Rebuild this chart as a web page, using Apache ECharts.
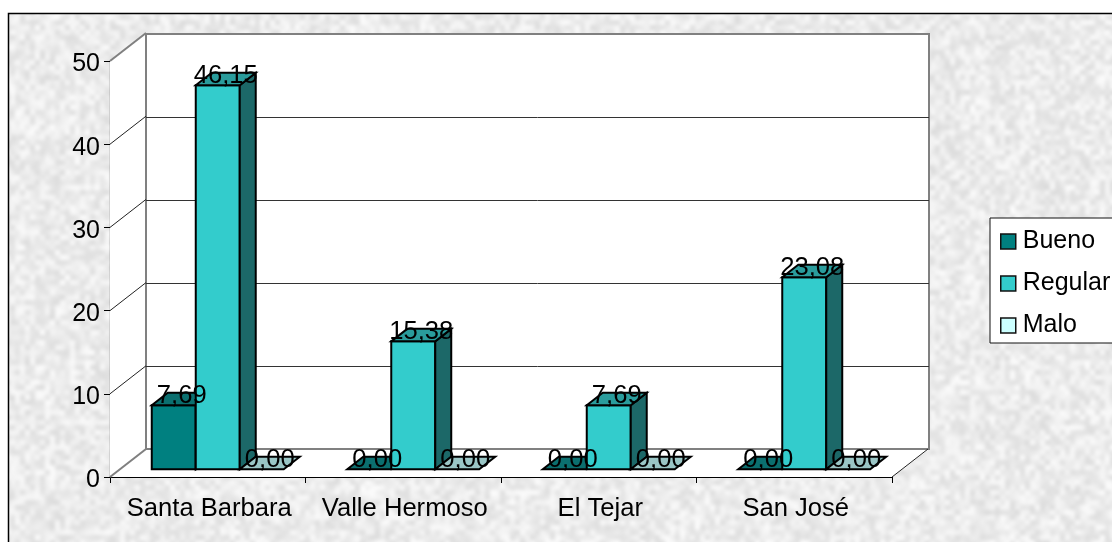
<!DOCTYPE html>
<html>
<head>
<meta charset="utf-8">
<style>html,body{margin:0;padding:0;background:#fff;overflow:hidden}#chart{width:1112px;height:542px}</style>
<script src="https://cdn.jsdelivr.net/npm/echarts@6/dist/echarts.min.js"></script>
</head>
<body>
<div id="chart"></div>
<script>
// Survey results per site
const categories = ['Santa Barbara', 'Valle Hermoso', 'El Tejar', 'San José'];
const bueno = [7.69, 0, 0, 0];
const regular = [46.15, 15.38, 7.69, 23.08];
const malo = [0, 0, 0, 0];
const yTicks = [0, 10, 20, 30, 40, 50];

// Face colours: front, top, side
const palette = {
  Bueno: ['#008080', '#0b6f6f', '#0a5a5a'],
  Regular: ['#33cccc', '#2a9c9c', '#1c6868'],
  Malo: ['#ccffff', '#9ac6c6', '#7fa8a8']
};

const FONT = '"Liberation Sans", Arial, sans-serif';
const WALL_DX = 36, WALL_DY = -28;     // offset of the back wall from the front plane
const BAR_INSET_X = 10, BAR_INSET_Y = -7.7; // bars stand a little behind the front edge
const BAR_DX = 16, BAR_DY = -12.5;     // bar depth
const BAR_SHARE = 0.225;               // bar width as a share of a category band

// Mottled stone background, drawn with a small seeded generator
function stoneTexture(w, h) {
  let seed = 20417;
  const rnd = () => (seed = (seed * 1664525 + 1013904223) >>> 0) / 4294967296;
  const out = document.createElement('canvas');
  out.width = w; out.height = h;
  const ctx = out.getContext('2d');
  ctx.fillStyle = '#f1f1f1';
  ctx.fillRect(0, 0, w, h);
  const layer = (cell, lo, hi, alpha) => {
    const cw = Math.ceil(w / cell), ch = Math.ceil(h / cell);
    const c = document.createElement('canvas');
    c.width = cw; c.height = ch;
    const cx = c.getContext('2d');
    const img = cx.createImageData(cw, ch);
    for (let i = 0; i < img.data.length; i += 4) {
      const v = lo + (hi - lo) * rnd();
      img.data[i] = img.data[i + 1] = img.data[i + 2] = v;
      img.data[i + 3] = 255;
    }
    cx.putImageData(img, 0, 0);
    ctx.globalAlpha = alpha;
    ctx.imageSmoothingEnabled = true;
    ctx.imageSmoothingQuality = 'high';
    ctx.drawImage(c, 0, 0, w, h);
  };
  layer(30, 232, 250, 0.4);
  layer(12, 225, 255, 0.45);
  layer(5, 208, 255, 0.55);
  ctx.globalAlpha = 1;
  return out;
}

function fmt(v) { return v.toFixed(2).replace('.', ','); }

function poly(points, fill, stroke, lineWidth) {
  return {
    type: 'polygon',
    shape: { points },
    style: { fill, stroke: stroke || null, lineWidth: lineWidth || 0, lineJoin: 'miter' }
  };
}

// Screen box of a column's front face, taken from the axis scales
function columnBox(api, slot) {
  const c = api.value(0), v = api.value(1);
  const base = api.coord([c, 0]);
  const head = api.coord([c, v]);
  const w = api.size([1, 0])[0] * BAR_SHARE;
  const x0 = base[0] + BAR_INSET_X + (slot - 1.5) * w;
  return { x0, x1: x0 + w, y0: base[1] + BAR_INSET_Y, y1: head[1] + BAR_INSET_Y, w, v };
}

// One 3D column: slot is the column position within its category band
function barSeries(name, values, slot) {
  const [front, top, side] = palette[name];
  return {
    name,
    type: 'custom',
    xAxisIndex: 0,
    yAxisIndex: 0,
    z: 5 + slot,
    itemStyle: { color: front },
    data: values.map((v, i) => [i, v]),
    encode: { x: 0, y: 1 },
    renderItem(params, api) {
      const { x0, x1, y0, y1, v } = columnBox(api, slot);
      const stroke = '#000', lw = 2;
      const children = [];
      if (v > 0) {
        children.push(poly([[x0, y1], [x1, y1], [x1, y0], [x0, y0]], front, stroke, lw));
        children.push(poly([[x1, y1], [x1 + BAR_DX, y1 + BAR_DY], [x1 + BAR_DX, y0 + BAR_DY], [x1, y0]], side, stroke, lw));
      }
      children.push(poly([[x0, y1], [x0 + BAR_DX, y1 + BAR_DY], [x1 + BAR_DX, y1 + BAR_DY], [x1, y1]], top, stroke, lw));
      return { type: 'group', children };
    }
  };
}

// Value captions float above every column
function labelSeries(values, slot) {
  return {
    type: 'custom',
    xAxisIndex: 0,
    yAxisIndex: 0,
    z: 20,
    silent: true,
    data: values.map((v, i) => [i, v]),
    encode: { x: 0, y: 1 },
    renderItem(params, api) {
      const { x0, y1, w, v } = columnBox(api, slot);
      return {
        type: 'text',
        style: {
          x: x0 + w / 2 + BAR_DX / 2,
          y: y1 + BAR_DY / 2 - 3,
          text: fmt(v),
          font: '25.6px ' + FONT,
          fill: '#000',
          align: 'center',
          verticalAlign: 'middle'
        }
      };
    }
  };
}

// Side wall, floor and the slanted gridlines that lead to the back wall
const frameSeries = {
  type: 'custom',
  xAxisIndex: 0,
  yAxisIndex: 0,
  z: 1,
  silent: true,
  data: yTicks.map(t => [0, t]),
  encode: { x: 0, y: 1 },
  renderItem(params, api) {
    const cs = params.coordSys;
    const t = api.value(1);
    const y = api.coord([0, t])[1];
    const left = cs.x, right = cs.x + cs.width;
    const children = [];
    if (t === 0) {
      const yTop = cs.y;
      children.push(poly([[left, yTop], [left + WALL_DX - 1, yTop + WALL_DY], [left + WALL_DX - 1, y + WALL_DY], [left, y]], '#fff'));
      children.push(poly([[left, y], [left + WALL_DX, y + WALL_DY + 1], [right + WALL_DX, y + WALL_DY + 1], [right, y]], '#fff'));
      children.push({ type: 'line', shape: { x1: right, y1: y, x2: right + WALL_DX, y2: y + WALL_DY }, style: { stroke: '#222', lineWidth: 1 } });
    }
    const isEdge = t === 0 || t === 50;
    children.push({
      type: 'line',
      shape: { x1: left, y1: y, x2: left + WALL_DX, y2: y + WALL_DY },
      style: { stroke: isEdge ? '#808080' : '#222', lineWidth: isEdge ? 2 : 1 }
    });
    return { type: 'group', children };
  }
};

const chart = echarts.init(document.getElementById('chart'), null, { renderer: 'canvas' });
chart.setOption({
  animation: false,
  graphic: [{
    type: 'rect',
    z: -10,
    silent: true,
    shape: { x: 8.5, y: 13.5, width: 1130, height: 560 },
    style: { fill: { image: stoneTexture(1130, 560), repeat: 'repeat' }, stroke: '#000', lineWidth: 1.5 }
  }],
  legend: {
    orient: 'vertical',
    left: 990,
    top: 218,
    backgroundColor: '#fff',
    borderColor: '#111',
    borderWidth: 1,
    padding: [11, 30, 5, 10],
    itemWidth: 15,
    itemHeight: 15,
    itemGap: 17,
    textStyle: { fontFamily: FONT, fontSize: 25, color: '#000', padding: [5, 0, 0, 2] },
    data: Object.keys(palette).map(name => ({
      name,
      icon: 'rect',
      itemStyle: { color: palette[name][0], borderColor: '#111', borderWidth: 1.5 }
    }))
  },
  grid: [
    { left: 110, right: 220, top: 61, bottom: 65, show: false, z: 3 },
    { left: 146, right: 183, top: 34, bottom: 93, show: true, backgroundColor: '#fff', borderColor: '#808080', borderWidth: 2, z: 0 }
  ],
  xAxis: [
    {
      gridIndex: 0,
      type: 'category',
      data: categories,
      axisLine: { show: true, lineStyle: { color: '#000', width: 1.2 } },
      axisTick: { show: true, length: 6, interval: 0, lineStyle: { color: '#000' } },
      axisLabel: {
        fontFamily: FONT, fontSize: 25.6, color: '#000', margin: 19, interval: 0, hideOverlap: false,
        formatter: '{c|{value}}',
        rich: { c: { fontFamily: FONT, fontSize: 25.6, color: '#000', padding: [0, 0, 0, 3] } }
      }
    },
    { gridIndex: 1, type: 'category', data: categories, show: false }
  ],
  yAxis: [
    {
      gridIndex: 0,
      type: 'value',
      min: 0,
      max: 50,
      interval: 10,
      axisLine: { show: true, lineStyle: { color: '#000', width: 1.2 } },
      axisTick: { show: true, length: 6, lineStyle: { color: '#000' } },
      splitLine: { show: false },
      axisLabel: {
        fontFamily: FONT, fontSize: 25, color: '#000', margin: 10,
        formatter: '{v|{value}}',
        rich: { v: { fontFamily: FONT, fontSize: 25, color: '#000', padding: [7, 0, 0, 0] } }
      }
    },
    {
      gridIndex: 1,
      type: 'value',
      min: 0,
      max: 50,
      interval: 10,
      axisLine: { show: false },
      axisTick: { show: false },
      axisLabel: { show: false },
      splitLine: { show: true, showMinLine: false, showMaxLine: false, lineStyle: { color: '#333', width: 1 } }
    }
  ],
  series: [
    frameSeries,
    barSeries('Bueno', bueno, 0),
    barSeries('Regular', regular, 1),
    barSeries('Malo', malo, 2),
    labelSeries(bueno, 0),
    labelSeries(regular, 1),
    labelSeries(malo, 2)
  ]
});
</script>
</body>
</html>
